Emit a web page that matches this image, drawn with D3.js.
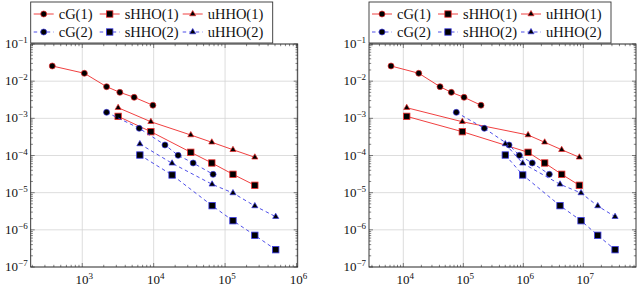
<!DOCTYPE html>
<html>
<head>
<meta charset="utf-8">
<script src="https://cdn.jsdelivr.net/npm/d3@7"></script>
<style>
  body { margin: 0; background: #fff; }
  svg { display: block; }
</style>
</head>
<body>
<div id="chart"></div>
<script>
// error values (same on both panels)
var errCG1 = [0.0256, 0.0163, 0.0071, 0.0050, 0.00368, 0.00225];
var errCG2 = [1.45e-3, 5.39e-4, 1.92e-4, 1.01e-4, 6.29e-5, 3.12e-5];
var errSHHO1 = [1.13e-3, 4.37e-4, 1.22e-4, 6.29e-5, 3.12e-5, 1.58e-5];
var errUHHO1 = [1.93e-3, 8.1e-4, 3.56e-4, 2.27e-4, 1.43e-4, 8.95e-5];
var errSHHO2 = [1.03e-4, 2.99e-5, 4.47e-6, 1.76e-6, 7.13e-7, 2.92e-7];
var errUHHO2 = [2.04e-4, 6.17e-5, 1.68e-5, 9.8e-6, 4.38e-6, 2.26e-6];

// dofs, left panel
var leftCG1 = [380, 1070, 2190, 3360, 5330, 9750];
var leftCG2 = [2190, 6270, 14400, 22000, 35700, 67900];
var leftHHO1 = [3180, 9140, 33100, 65200, 129000, 261000];
var leftHHO2 = [6410, 18100, 65800, 129000, 261000, 512000];

// dofs, right panel
var rightCG1 = [6240, 18100, 40900, 63100, 102800, 197000];
var rightCG2 = [76400, 224000, 578000, 858000, 1410000, 2710000];
var rightHHO1 = [11400, 96200, 1200000, 2270000, 4360000, 8580000];
var rightHHO2 = [501000, 977000, 4090000, 9160000, 17400000, 33800000];

var yTicks = [1e-7, 1e-6, 1e-5, 1e-4, 1e-3, 1e-2, 1e-1];
var leftXTicks = [1e3, 1e4, 1e5, 1e6];
var rightXTicks = [1e4, 1e5, 1e6, 1e7];

var legendNames = ["cG(1)", "sHHO(1)", "uHHO(1)", "cG(2)", "sHHO(2)", "uHHO(2)"];

var RED = "#ee2a2a", BLUE = "#3a3ae6";
var FONT = "'Liberation Serif', serif";

var svg = d3.select("#chart").append("svg")
    .attr("width", 640)
    .attr("height", 290);

function series(xs) {
  return [
    {name: "cG(1)", x: xs[0], y: errCG1, color: RED, dash: null, mark: "circle"},
    {name: "sHHO(1)", x: xs[2], y: errSHHO1, color: RED, dash: null, mark: "square"},
    {name: "uHHO(1)", x: xs[2], y: errUHHO1, color: RED, dash: null, mark: "triangle"},
    {name: "cG(2)", x: xs[1], y: errCG2, color: BLUE, dash: "3.5,3", mark: "circle"},
    {name: "sHHO(2)", x: xs[3], y: errSHHO2, color: BLUE, dash: "3.5,3", mark: "square"},
    {name: "uHHO(2)", x: xs[3], y: errUHHO2, color: BLUE, dash: "3.5,3", mark: "triangle"}
  ];
}

function drawMark(g, kind, cx, cy, color) {
  if (kind === "circle") {
    g.append("circle").attr("cx", cx).attr("cy", cy).attr("r", 3)
      .attr("fill", "#000").attr("stroke", color).attr("stroke-width", 0.7);
  } else if (kind === "square") {
    g.append("rect").attr("x", cx - 3.2).attr("y", cy - 3.2)
      .attr("width", 6.4).attr("height", 6.4)
      .attr("fill", "#000").attr("stroke", color).attr("stroke-width", 0.8);
  } else {
    var s = d3.symbol().type(d3.symbolTriangle).size(16);
    g.append("path").attr("d", s()).attr("transform", "translate(" + cx + "," + cy + ")")
      .attr("fill", "#000").attr("stroke", color).attr("stroke-width", 0.7);
  }
}

function supLabel(sel, exp) {
  sel.append("tspan").text("10");
  sel.append("tspan").attr("dy", -5).attr("font-size", 9).text(exp);
}

function panel(left, right, xDomain, xTicks, xs) {
  var top = 44, bottom = 267;
  var x = d3.scaleLog().domain(xDomain).range([left, right]);
  var y = d3.scaleLog().domain([1e-7, 1e-1]).range([bottom, top]);
  var g = svg.append("g");

  // grid
  g.selectAll(".gx").data(xTicks).enter().append("line")
    .attr("x1", d => x(d)).attr("x2", d => x(d))
    .attr("y1", top).attr("y2", bottom)
    .attr("stroke", "#d4d4d4").attr("stroke-width", 0.8);
  g.selectAll(".gy").data(yTicks).enter().append("line")
    .attr("x1", left).attr("x2", right)
    .attr("y1", d => y(d)).attr("y2", d => y(d))
    .attr("stroke", "#d4d4d4").attr("stroke-width", 0.8);

  // minor + major ticks on all sides
  var lo = Math.floor(Math.log10(xDomain[0])), hi = Math.ceil(Math.log10(xDomain[1]));
  var xt = [];
  for (var e = lo; e <= hi; e++) for (var m = 1; m <= 9; m++) {
    var v = m * Math.pow(10, e);
    if (v >= xDomain[0] && v <= xDomain[1]) xt.push({v: v, major: m === 1});
  }
  var yt = [];
  for (var e2 = -7; e2 <= -1; e2++) for (var m2 = 1; m2 <= 9; m2++) {
    var v2 = m2 * Math.pow(10, e2);
    if (v2 <= 0.1 + 1e-12) yt.push({v: v2, major: m2 === 1});
  }
  var tk = g.append("g").attr("stroke", "#333").attr("stroke-width", 0.6);
  xt.forEach(function(t) {
    var L = t.major ? 4 : 2.2;
    tk.append("line").attr("x1", x(t.v)).attr("x2", x(t.v)).attr("y1", bottom).attr("y2", bottom - L);
    tk.append("line").attr("x1", x(t.v)).attr("x2", x(t.v)).attr("y1", top).attr("y2", top + L);
  });
  yt.forEach(function(t) {
    var L = t.major ? 4 : 2.2;
    tk.append("line").attr("x1", left).attr("x2", left + L).attr("y1", y(t.v)).attr("y2", y(t.v));
    tk.append("line").attr("x1", right).attr("x2", right - L).attr("y1", y(t.v)).attr("y2", y(t.v));
  });

  // frame
  g.append("rect").attr("x", left).attr("y", top)
    .attr("width", right - left).attr("height", bottom - top)
    .attr("fill", "none").attr("stroke", "#222").attr("stroke-width", 0.9);

  // tick labels
  xTicks.forEach(function(d) {
    var t = g.append("text").attr("x", x(d) + 2).attr("y", 284)
      .style("font-family", FONT)
      .attr("text-anchor", "middle").attr("font-size", 13).attr("fill", "#111");
    supLabel(t, String(Math.round(Math.log10(d))));
  });
  yTicks.forEach(function(d) {
    var t = g.append("text").attr("x", left - 3).attr("y", y(d) + 4)
      .style("font-family", FONT)
      .attr("text-anchor", "end").attr("font-size", 13).attr("fill", "#111");
    supLabel(t, "\u2212" + String(-Math.round(Math.log10(d))));
  });

  // series
  var line = d3.line().x(d => x(d[0])).y(d => y(d[1]));
  series(xs).forEach(function(s) {
    var pts = s.x.map((v, i) => [v, s.y[i]]);
    g.append("path").attr("d", line(pts))
      .attr("fill", "none").attr("stroke", s.color).attr("stroke-width", 0.9)
      .attr("stroke-dasharray", s.dash);
    pts.forEach(function(p) { drawMark(g, s.mark, x(p[0]), y(p[1]), s.color); });
  });

  // legend
  var lg = svg.append("g").attr("transform", "translate(" + left + ",2)");
  lg.append("rect").attr("x", 0).attr("y", 0).attr("width", 242).attr("height", 41)
    .attr("fill", "#fff").attr("stroke", "#333").attr("stroke-width", 0.9);
  var colX = [3, 69, 152];
  series(xs).forEach(function(s, i) {
    var cx = colX[i % 3], cy = i < 3 ? 12 : 30;
    lg.append("line").attr("x1", cx).attr("x2", cx + 20).attr("y1", cy).attr("y2", cy)
      .attr("stroke", s.color).attr("stroke-width", 0.9).attr("stroke-dasharray", s.dash);
    drawMark(lg, s.mark, cx + 10, cy, s.color);
    lg.append("text").attr("x", cx + 25).attr("y", cy + 4.5)
      .style("font-family", FONT)
      .attr("font-size", 14.5).attr("fill", "#111").text(legendNames[i]);
  });
}

panel(30.7, 297.7, [Math.pow(10, 2.278), Math.pow(10, 6.017)], leftXTicks,
  [leftCG1, leftCG2, leftHHO1, leftHHO2]);
panel(369, 636, [Math.pow(10, 3.428), Math.pow(10, 7.878)], rightXTicks,
  [rightCG1, rightCG2, rightHHO1, rightHHO2]);
</script>
</body>
</html>
